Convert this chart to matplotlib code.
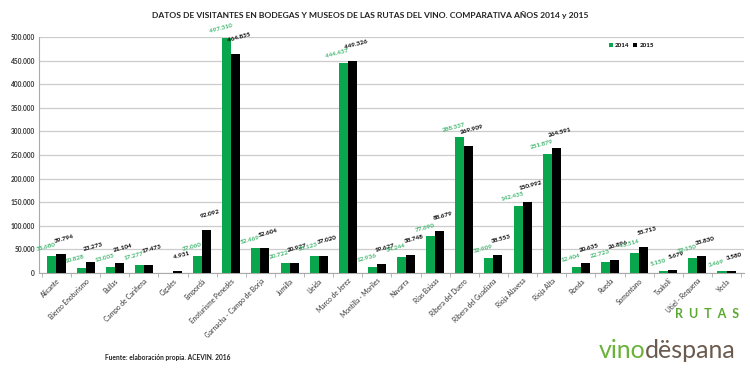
import matplotlib.pyplot as plt
import numpy as np

plt.rcParams['font.family'] = ['Lato', 'DejaVu Sans']

# rutas del vino (24)
rutas = ["Alicante", "Bierzo Enoturismo", "Bullas", "Campo de Cariñena", "Cigales",
         "Empordà", "Enoturisme Penedès", "Garnacha - Campo de Borja", "Jumilla",
         "Lleida", "Marco de Jerez", "Montilla - Moriles", "Navarra", "Rías Baixas",
         "Ribera del Duero", "Ribera del Guadiana", "Rioja Alavesa", "Rioja Alta",
         "Ronda", "Rueda", "Somontano", "Txakolí", "Utiel - Requena", "Yecla"]

v2014 = [35680, 10828, 13003, 17277, 0, 37060, 497310, 52469, 20722, 36123,
         444437, 12936, 34244, 77690, 288337, 32909, 142435, 251879, 12404,
         22723, 43514, 5150, 32150, 3469]
v2015 = [39794, 23273, 21104, 17473, 4931, 92092, 464835, 52604, 20927, 37020,
         449326, 19627, 38748, 88679, 269909, 38553, 150992, 264591, 20635,
         26896, 55713, 5679, 35830, 3580]

GREEN = '#0aa64e'
LGREEN = '#3fb56e'

def fmt(v):
    return f"{v:,}".replace(",", ".")

fig = plt.figure(figsize=(7.5, 3.69), dpi=100)
ax = fig.add_axes([0.052, 0.26, 0.94, 0.64])

x = np.arange(len(rutas))
w = 0.31
ax.bar(x - w/2, v2014, w, color=GREEN, label='2014', zorder=3)
ax.bar(x + w/2, v2015, w, color='black', label='2015', zorder=3)

for i in range(len(rutas)):
    if v2014[i] > 0:
        ax.text(x[i] - w/2 - 0.2, v2014[i] + 8000, fmt(v2014[i]), color=LGREEN,
                fontsize=4.6, ha='center', va='bottom', rotation=15, fontweight='bold')
    ax.text(x[i] + w/2 + 0.12, v2015[i] + 22000, fmt(v2015[i]), color='black',
            fontsize=4.6, ha='center', va='bottom', rotation=15, fontweight='bold')

ax.set_xlim(-0.6, len(rutas) - 0.4)
ax.set_ylim(0, 500000)
ax.set_yticks(np.arange(0, 500001, 50000))
ax.set_yticklabels([fmt(t) for t in range(0, 500001, 50000)], fontsize=4.8,
                   fontweight='bold', color='#333333')
ax.set_xticks(x)
ax.set_xticklabels(rutas, rotation=45, ha='right', rotation_mode='anchor',
                   fontsize=4.8, color='#333333')
ax.tick_params(axis='y', length=0, pad=3)
ax.set_xticks(np.arange(-0.5, len(rutas), 1), minor=True)
ax.tick_params(axis='x', which='minor', length=3, color='#aaaaaa')
ax.tick_params(axis='x', which='major', length=0, pad=3)

ax.grid(axis='y', color='#cccccc', linewidth=0.9, zorder=0)
for s in ['top', 'right']:
    ax.spines[s].set_visible(False)
ax.spines['left'].set_color('#aaaaaa')
ax.spines['bottom'].set_color('#aaaaaa')

ax.legend(loc='upper right', bbox_to_anchor=(0.88, 1.0), ncol=2, frameon=False,
          handlelength=0.7, handleheight=0.7, columnspacing=0.6,
          handletextpad=0.3, prop={'weight': 'bold', 'size': 4.5})

fig.text(0.493, 0.96, "DATOS DE VISITANTES EN BODEGAS Y MUSEOS DE LAS RUTAS DEL VINO. COMPARATIVA AÑOS 2014 y 2015",
         ha='center', va='center', fontsize=6.1, fontweight='bold', color='#222222')
fig.text(0.14, 0.032, "Fuente: elaboración propia. ACEVIN. 2016", ha='left', va='center',
         fontsize=4.8, fontweight='bold', color='#222222')

# logo
fig.text(0.985, 0.15, "R  U  T  A  S", ha='right', va='center', fontsize=9,
         color='#5aa832', fontweight='bold')
fig.text(0.86, 0.05, "vino", ha='right', va='center', fontsize=18, color='#6ab23a')
fig.text(0.86, 0.05, "dëspana", ha='left', va='center', fontsize=18, color='#6b5a4e')

fig.savefig('out.png', dpi=100)
